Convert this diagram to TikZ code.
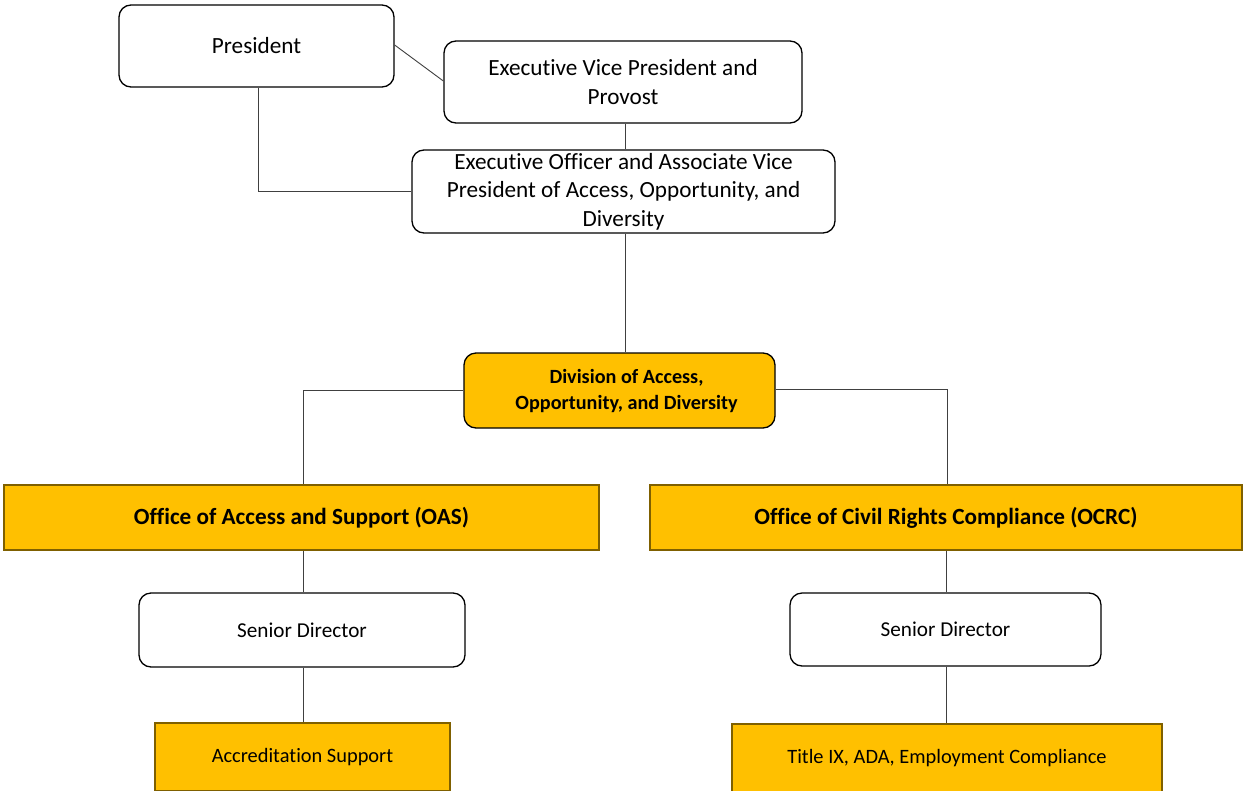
\documentclass[tikz,border=0pt]{standalone}
\usepackage{fontspec}
\setmainfont{Carlito}[Ligatures={NoCommon}]
\definecolor{gold}{HTML}{FFC000}
\definecolor{goldedge}{HTML}{7F6000}
\definecolor{linegray}{HTML}{404040}
\begin{document}
\begin{tikzpicture}[x=1pt,y=-1pt,
  rbox/.style={draw=black,line width=1.3pt,rounded corners=12pt,fill=white,inner sep=0pt,align=center},
  goldround/.style={rbox,fill=gold},
  goldrect/.style={draw=goldedge,line width=1.3pt,fill=gold,inner sep=0pt,align=center},
  conn/.style={draw=linegray,line width=0.9pt},
  bigtxt/.style={font=\fontsize{23.2}{28.5}\selectfont},
  sdtxt/.style={font=\fontsize{21.2}{24}\selectfont},
  smalltxt/.style={font=\fontsize{20.4}{24}\selectfont},
  boldtxt/.style={font=\bfseries\fontsize{23.2}{26}\selectfont},
  divtxt/.style={font=\bfseries\fontsize{20.2}{26}\selectfont}]
\useasboundingbox (0,0) rectangle (1244,790);
\fill[white] (0,0) rectangle (1244,790);
\node[rbox,bigtxt,minimum width=275pt,minimum height=82pt] (pres) at (256.5,46) {President};
\node[rbox,bigtxt,minimum width=358pt,minimum height=82pt] (evp) at (623,82) {Executive Vice President and\\Provost};
\node[rbox,bigtxt,minimum width=423pt,minimum height=83pt] (eo) at (623.5,191.5) {Executive Officer and Associate Vice\\President of Access, Opportunity, and\\Diversity};
\node[goldround,divtxt,minimum width=311pt,minimum height=75pt] (div) at (619.5,390.5) {\rule{0pt}{4pt}\hspace*{14pt}Division of Access,\\\hspace*{14pt}Opportunity, and Diversity};
\node[goldrect,boldtxt,minimum width=595pt,minimum height=65pt] (oas) at (301.5,517.5) {Office of Access and Support (OAS)};
\node[goldrect,boldtxt,minimum width=592pt,minimum height=65pt] (ocrc) at (946,517.5) {Office of Civil Rights Compliance (OCRC)};
\node[rbox,sdtxt,minimum width=326pt,minimum height=74pt] (sdl) at (302,630) {Senior Director};
\node[rbox,sdtxt,minimum width=311pt,minimum height=73pt] (sdr) at (945.5,629.5) {Senior Director};
\node[goldrect,smalltxt,minimum width=295pt,minimum height=68pt] (acc) at (302.5,757) {Accreditation Support};
\node[goldrect,smalltxt,minimum width=430pt,minimum height=68pt] (tix) at (947,758) {Title IX, ADA, Employment Compliance};
% connectors
\coordinate (c1) at (258,191.5);
\coordinate (c2) at (303,390.5);
\coordinate (c3) at (947,389);
\draw[conn] (pres.east |- 0,45) -- (evp.west |- 0,81);
\draw[conn] (pres.south -| c1) -- (c1) -- (eo.west);
\draw[conn] (evp.south -| 625,0) -- (eo.north -| 625,0);
\draw[conn] (eo.south -| 625,0) -- (div.north -| 625,0);
\draw[conn] (div.west) -- (c2) -- (oas.north -| c2);
\draw[conn] (div.east |- c3) -- (c3) -- (ocrc.north -| c3);
\draw[conn] (oas.south -| 303,0) -- (sdl.north -| 303,0);
\draw[conn] (sdl.south -| 303,0) -- (acc.north -| 303,0);
\draw[conn] (ocrc.south -| 946,0) -- (sdr.north -| 946,0);
\draw[conn] (sdr.south -| 946,0) -- (tix.north -| 946,0);
\end{tikzpicture}
\end{document}
